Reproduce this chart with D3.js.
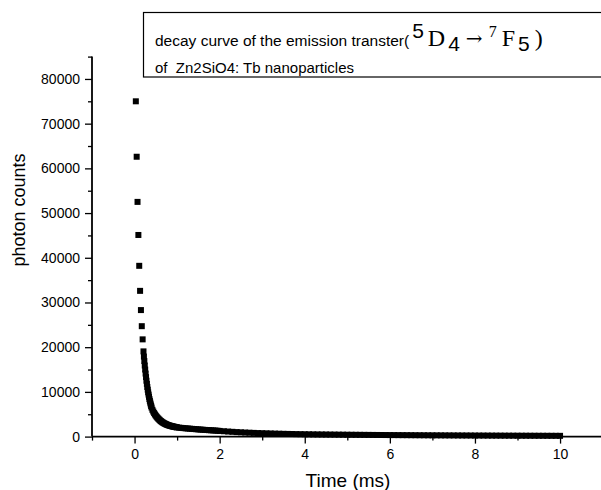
<!DOCTYPE html>
<html>
<head>
<meta charset="utf-8">
<script src="https://cdn.jsdelivr.net/npm/d3@7"></script>
<style>
  html, body { margin: 0; padding: 0; background: #ffffff; }
  svg { display: block; }
  text { font-family: "Liberation Sans", Arial, sans-serif; fill: #000; }
</style>
</head>
<body>
<svg id="chart" width="601" height="490"></svg>
<script>
// ---- data ----
const timeMs = [
  0.03, 0.05, 0.07, 0.09, 0.11, 0.13, 0.15, 0.17, 0.19, 0.21,
  0.22, 0.23, 0.24, 0.25, 0.26, 0.27, 0.28, 0.29, 0.30, 0.31, 0.32, 0.33, 0.34, 0.35, 0.36, 0.37, 0.38, 0.39, 0.40,
  0.42, 0.44, 0.46, 0.48, 0.50, 0.52, 0.54, 0.56, 0.58, 0.60, 0.62, 0.64, 0.66, 0.68, 0.70,
  0.72, 0.74, 0.76, 0.78, 0.80, 0.82, 0.84, 0.86, 0.88, 0.90, 0.92, 0.94, 0.96, 0.98, 1.00,
  1.05, 1.10, 1.15, 1.20, 1.25, 1.30, 1.35, 1.40, 1.45, 1.50, 1.55, 1.60, 1.65, 1.70, 1.75, 1.80, 1.85, 1.90, 1.95, 2.00,
  2.1, 2.2, 2.3, 2.4, 2.5, 2.6, 2.7, 2.8, 2.9, 3.0, 3.1, 3.2, 3.3, 3.4, 3.5, 3.6, 3.7, 3.8, 3.9, 4.0,
  4.1, 4.2, 4.3, 4.4, 4.5, 4.6, 4.7, 4.8, 4.9, 5.0, 5.1, 5.2, 5.3, 5.4, 5.5, 5.6, 5.7, 5.8, 5.9, 6.0,
  6.1, 6.2, 6.3, 6.4, 6.5, 6.6, 6.7, 6.8, 6.9, 7.0, 7.1, 7.2, 7.3, 7.4, 7.5, 7.6, 7.7, 7.8, 7.9, 8.0,
  8.1, 8.2, 8.3, 8.4, 8.5, 8.6, 8.7, 8.8, 8.9, 9.0, 9.1, 9.2, 9.3, 9.4, 9.5, 9.6, 9.7, 9.8, 9.9, 10.0
];
const photonCounts = [
  75000, 62600, 52500, 45100, 38200, 32600, 28300, 24700, 21750, 19060,
  17900, 16900, 15900, 15000, 14100, 13300, 12500, 11800, 11100, 10500, 9900, 9400, 8900, 8400, 8000, 7600, 7200, 6850, 6500,
  6000, 5600, 5250, 4950, 4680, 4430, 4200, 3990, 3800, 3620, 3460, 3310, 3180, 3060, 2950,
  2850, 2760, 2680, 2600, 2530, 2470, 2410, 2360, 2310, 2260, 2220, 2180, 2140, 2100, 2060,
  2000, 1950, 1900, 1850, 1810, 1770, 1730, 1690, 1650, 1610, 1570, 1540, 1500, 1470, 1440, 1410, 1380, 1350, 1310, 1270,
  1200, 1130, 1070, 1010, 960, 910, 870, 830, 790, 760, 730, 700, 670, 645, 620, 600, 580, 560, 545, 530,
  515, 500, 490, 480, 470, 460, 450, 440, 430, 420, 412, 404, 396, 388, 380, 372, 365, 358, 351, 344,
  338, 332, 326, 320, 314, 308, 302, 296, 290, 285, 280, 275, 270, 265, 260, 255, 250, 246, 242, 238,
  234, 230, 226, 222, 218, 214, 210, 207, 204, 201, 198, 195, 192, 189, 186, 183, 180, 177, 174, 171
];
const xMajorTicks = [0, 2, 4, 6, 8, 10];
const xMinorTicks = [-1, 1, 3, 5, 7, 9, 11];
const yMajorTicks = [0, 10000, 20000, 30000, 40000, 50000, 60000, 70000, 80000];
const yMinorTicks = [5000, 15000, 25000, 35000, 45000, 55000, 65000, 75000, 85000];
const xTitle = "Time (ms)";
const yTitle = "photon counts";

// ---- layout ----
const svg = d3.select("#chart");
const x = d3.scaleLinear().domain([-1, 11]).range([92, 602.6]);
const y = d3.scaleLinear().domain([0, 85000]).range([436.6, 56.6]);

// data markers
svg.append("g").selectAll("rect")
  .data(timeMs.map((t, i) => ({t, v: photonCounts[i]})))
  .join("rect")
  .attr("x", d => x(d.t) - 3)
  .attr("y", d => y(d.v) - 3)
  .attr("width", 6)
  .attr("height", 6)
  .attr("fill", "#000");

// axes
const axisFont = "14px";
const xAxis = svg.append("g").attr("transform", `translate(0,${y(0)})`)
  .call(d3.axisBottom(x).tickValues(xMajorTicks).tickSize(7).tickPadding(5).tickFormat(d3.format("d")));
const xMinor = svg.append("g").attr("transform", `translate(0,${y(0)})`)
  .call(d3.axisBottom(x).tickValues(xMinorTicks).tickSize(4).tickFormat(""));
xMinor.select(".domain").remove();

const yAxis = svg.append("g").attr("transform", `translate(${x(-1)},0)`)
  .call(d3.axisLeft(y).tickValues(yMajorTicks).tickSize(7).tickPadding(5).tickFormat(d3.format("d")));
const yMinor = svg.append("g").attr("transform", `translate(${x(-1)},0)`)
  .call(d3.axisLeft(y).tickValues(yMinorTicks).tickSize(4).tickFormat(""));
yMinor.select(".domain").remove();

[xAxis, yAxis, xMinor, yMinor].forEach(g => {
  g.selectAll("path.domain").attr("stroke", "#000").attr("stroke-width", 1.8);
  g.selectAll(".tick line").attr("stroke", "#000").attr("stroke-width", 1.3);
  g.selectAll(".tick text").style("font-size", axisFont)
    .style("font-family", '"Liberation Sans", Arial, sans-serif').attr("fill", "#000");
});
yAxis.select(".domain").attr("d", `M0,${y(85000)}V${y(0)}`);
xAxis.select(".domain").attr("d", `M${x(-1)},0H${x(11)}`);

// axis titles
svg.append("text").attr("x", 348).attr("y", 487)
  .attr("text-anchor", "middle").style("font-size", "19px").text(xTitle);
svg.append("text").attr("transform", "translate(25,210) rotate(-90)")
  .attr("text-anchor", "middle").style("font-size", "18px").text(yTitle);

// legend box
svg.append("rect").attr("x", 143.5).attr("y", 12.5).attr("width", 470).attr("height", 64.5)
  .attr("fill", "#fff").attr("stroke", "#000").attr("stroke-width", 1.2);

const serif = '"Liberation Serif", "Times New Roman", serif';
const l1 = svg.append("text").attr("x", 155).attr("y", 46).style("font-size", "15.5px");
l1.append("tspan").text("decay curve of the emission transter(");
l1.append("tspan").attr("dx", 3).attr("dy", -8).style("font-size", "21px").text("5");
l1.append("tspan").attr("dx", 4).attr("dy", 8).style("font-family", serif).style("font-size", "24px").text("D");
l1.append("tspan").attr("dx", 3).attr("dy", 5).style("font-size", "21px").text("4");
l1.append("tspan").attr("dx", 6).attr("dy", -6).style("font-family", '"DejaVu Serif", serif').style("font-size", "20px").text("\u2192");
l1.append("tspan").attr("dx", 6).attr("dy", -8).style("font-family", serif).style("font-size", "16px").text("7");
l1.append("tspan").attr("dx", 5).attr("dy", 9).style("font-family", serif).style("font-size", "24px").text("F");
l1.append("tspan").attr("dx", 3).attr("dy", 5).style("font-size", "21px").text("5");
l1.append("tspan").attr("dx", 5).attr("dy", -5).style("font-family", serif).style("font-size", "24px").text(")");

svg.append("text").attr("x", 155).attr("y", 73).style("font-size", "15px")
  .attr("xml:space", "preserve").style("white-space", "pre")
  .text("of  Zn2SiO4: Tb nanoparticles");
</script>
</body>
</html>
